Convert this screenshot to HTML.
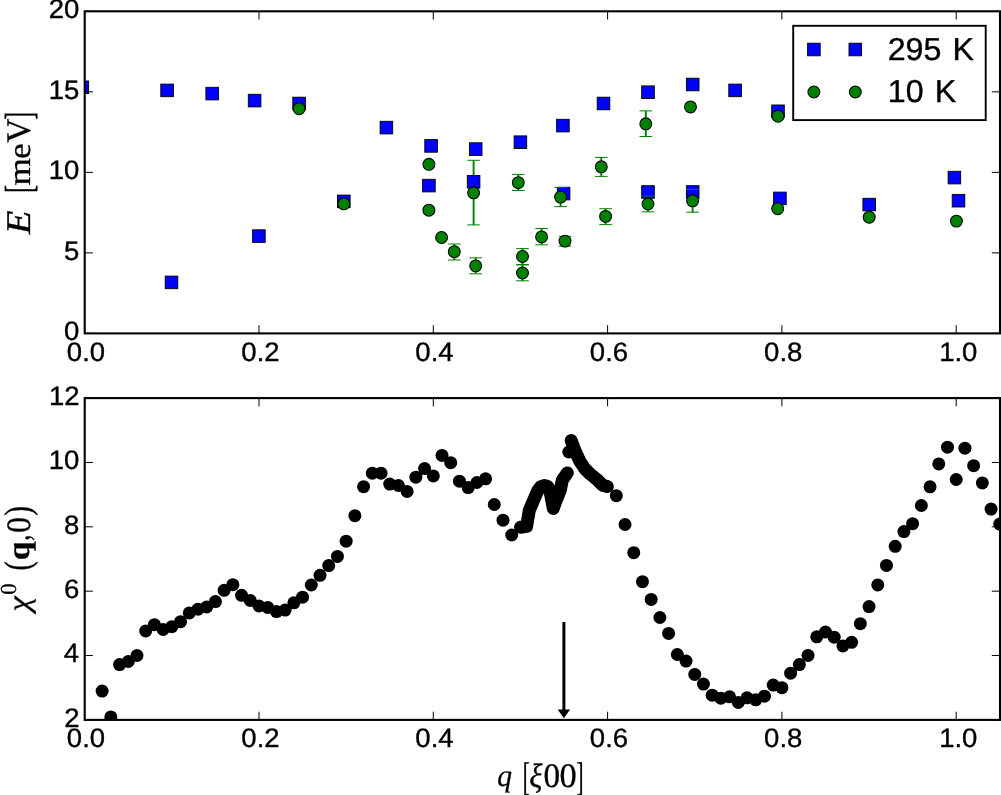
<!DOCTYPE html>
<html><head><meta charset="utf-8"><title>chart</title>
<style>html,body{margin:0;padding:0;background:#fff;}svg{display:block;will-change:transform;}text{fill:#000;text-rendering:geometricPrecision;}</style></head><body>
<svg width="1001" height="795" viewBox="0 0 1001 795">
<rect width="1001" height="795" fill="#fff"/>
<defs>
<clipPath id="ct"><rect x="84.7" y="11.3" width="917.3" height="322.1"/></clipPath>
<clipPath id="cb"><rect x="84.7" y="398.1" width="917.3" height="321.8"/></clipPath>
</defs>
<g clip-path="url(#ct)">
<path d="M454.3 244V260M475.7 257.8V273.8M473.6 160.3V224.9M518.3 174.4V190.5M522.5 248.6V264.5M522.5 264.9V280.8M541.6 228.5V244.8M565 236.3V246.1M560.6 187.4V206.6M601.3 157.4V176.4M605.6 208.7V224.6M645.8 110.9V136.5M648 196V211.8M692.6 189.3V212.2" stroke="#008000" stroke-width="1.9" fill="none"/>
<rect x="76" y="81" width="12.6" height="12.6" fill="#0000ff" stroke="#000" stroke-width="0.9"/>
<rect x="160.8" y="84.1" width="12.6" height="12.6" fill="#0000ff" stroke="#000" stroke-width="0.9"/>
<rect x="205.9" y="87.3" width="12.6" height="12.6" fill="#0000ff" stroke="#000" stroke-width="0.9"/>
<rect x="248.3" y="94.3" width="12.6" height="12.6" fill="#0000ff" stroke="#000" stroke-width="0.9"/>
<rect x="292.8" y="97.2" width="12.6" height="12.6" fill="#0000ff" stroke="#000" stroke-width="0.9"/>
<rect x="380.1" y="121.3" width="12.6" height="12.6" fill="#0000ff" stroke="#000" stroke-width="0.9"/>
<rect x="424.8" y="139.6" width="12.6" height="12.6" fill="#0000ff" stroke="#000" stroke-width="0.9"/>
<rect x="469.4" y="142.8" width="12.6" height="12.6" fill="#0000ff" stroke="#000" stroke-width="0.9"/>
<rect x="514.1" y="135.9" width="12.6" height="12.6" fill="#0000ff" stroke="#000" stroke-width="0.9"/>
<rect x="556.6" y="119.3" width="12.6" height="12.6" fill="#0000ff" stroke="#000" stroke-width="0.9"/>
<rect x="597.2" y="97.2" width="12.6" height="12.6" fill="#0000ff" stroke="#000" stroke-width="0.9"/>
<rect x="641.7" y="85.9" width="12.6" height="12.6" fill="#0000ff" stroke="#000" stroke-width="0.9"/>
<rect x="686.4" y="78.2" width="12.6" height="12.6" fill="#0000ff" stroke="#000" stroke-width="0.9"/>
<rect x="728.8" y="84.1" width="12.6" height="12.6" fill="#0000ff" stroke="#000" stroke-width="0.9"/>
<rect x="771.7" y="105" width="12.6" height="12.6" fill="#0000ff" stroke="#000" stroke-width="0.9"/>
<rect x="165.2" y="276.1" width="12.6" height="12.6" fill="#0000ff" stroke="#000" stroke-width="0.9"/>
<rect x="252.6" y="229.8" width="12.6" height="12.6" fill="#0000ff" stroke="#000" stroke-width="0.9"/>
<rect x="337.5" y="195.1" width="12.6" height="12.6" fill="#0000ff" stroke="#000" stroke-width="0.9"/>
<rect x="422.6" y="179.3" width="12.6" height="12.6" fill="#0000ff" stroke="#000" stroke-width="0.9"/>
<rect x="467.3" y="175.5" width="12.6" height="12.6" fill="#0000ff" stroke="#000" stroke-width="0.9"/>
<rect x="557.3" y="187.3" width="12.6" height="12.6" fill="#0000ff" stroke="#000" stroke-width="0.9"/>
<rect x="641.7" y="185.7" width="12.6" height="12.6" fill="#0000ff" stroke="#000" stroke-width="0.9"/>
<rect x="686.4" y="185.7" width="12.6" height="12.6" fill="#0000ff" stroke="#000" stroke-width="0.9"/>
<rect x="773.6" y="192.1" width="12.6" height="12.6" fill="#0000ff" stroke="#000" stroke-width="0.9"/>
<rect x="862.9" y="198.3" width="12.6" height="12.6" fill="#0000ff" stroke="#000" stroke-width="0.9"/>
<rect x="948.1" y="171.3" width="12.6" height="12.6" fill="#0000ff" stroke="#000" stroke-width="0.9"/>
<rect x="952.2" y="194.4" width="12.6" height="12.6" fill="#0000ff" stroke="#000" stroke-width="0.9"/>
<path d="M448 244h12.6M448 260h12.6M469.4 257.8h12.6M469.4 273.8h12.6M467.3 160.3h12.6M467.3 224.9h12.6M512 174.4h12.6M512 190.5h12.6M516.2 248.6h12.6M516.2 264.5h12.6M516.2 264.9h12.6M516.2 280.8h12.6M535.3 228.5h12.6M535.3 244.8h12.6M558.7 236.3h12.6M558.7 246.1h12.6M554.3 187.4h12.6M554.3 206.6h12.6M595 157.4h12.6M595 176.4h12.6M599.3 208.7h12.6M599.3 224.6h12.6M639.5 110.9h12.6M639.5 136.5h12.6M641.7 196h12.6M641.7 211.8h12.6M686.3 189.3h12.6M686.3 212.2h12.6" stroke="#008000" stroke-width="1" fill="none"/>
<circle cx="299.1" cy="108.7" r="5.95" fill="#008000" stroke="#000" stroke-width="1.05"/>
<circle cx="343.8" cy="203.9" r="5.95" fill="#008000" stroke="#000" stroke-width="1.05"/>
<circle cx="428.9" cy="164.3" r="5.95" fill="#008000" stroke="#000" stroke-width="1.05"/>
<circle cx="428.9" cy="210.2" r="5.95" fill="#008000" stroke="#000" stroke-width="1.05"/>
<circle cx="441.6" cy="237.5" r="5.95" fill="#008000" stroke="#000" stroke-width="1.05"/>
<circle cx="454.3" cy="251.7" r="5.95" fill="#008000" stroke="#000" stroke-width="1.05"/>
<circle cx="475.7" cy="265.9" r="5.95" fill="#008000" stroke="#000" stroke-width="1.05"/>
<circle cx="473.6" cy="192.8" r="5.95" fill="#008000" stroke="#000" stroke-width="1.05"/>
<circle cx="518.3" cy="182.6" r="5.95" fill="#008000" stroke="#000" stroke-width="1.05"/>
<circle cx="522.5" cy="256.5" r="5.95" fill="#008000" stroke="#000" stroke-width="1.05"/>
<circle cx="522.5" cy="273" r="5.95" fill="#008000" stroke="#000" stroke-width="1.05"/>
<circle cx="541.6" cy="236.9" r="5.95" fill="#008000" stroke="#000" stroke-width="1.05"/>
<circle cx="565" cy="241.1" r="5.95" fill="#008000" stroke="#000" stroke-width="1.05"/>
<circle cx="560.6" cy="197.1" r="5.95" fill="#008000" stroke="#000" stroke-width="1.05"/>
<circle cx="601.3" cy="166.8" r="5.95" fill="#008000" stroke="#000" stroke-width="1.05"/>
<circle cx="605.6" cy="216.4" r="5.95" fill="#008000" stroke="#000" stroke-width="1.05"/>
<circle cx="645.8" cy="123.8" r="5.95" fill="#008000" stroke="#000" stroke-width="1.05"/>
<circle cx="648" cy="204" r="5.95" fill="#008000" stroke="#000" stroke-width="1.05"/>
<circle cx="690.5" cy="106.9" r="5.95" fill="#008000" stroke="#000" stroke-width="1.05"/>
<circle cx="692.6" cy="200.8" r="5.95" fill="#008000" stroke="#000" stroke-width="1.05"/>
<circle cx="778" cy="116.2" r="5.95" fill="#008000" stroke="#000" stroke-width="1.05"/>
<circle cx="777.7" cy="208.7" r="5.95" fill="#008000" stroke="#000" stroke-width="1.05"/>
<circle cx="869.2" cy="217.2" r="5.95" fill="#008000" stroke="#000" stroke-width="1.05"/>
<circle cx="956.4" cy="221.1" r="5.95" fill="#008000" stroke="#000" stroke-width="1.05"/>
</g>
<path d="M84.7 333.4v-8.2M84.7 11.3v8.2M259 333.4v-8.2M259 11.3v8.2M433.3 333.4v-8.2M433.3 11.3v8.2M607.6 333.4v-8.2M607.6 11.3v8.2M781.9 333.4v-8.2M781.9 11.3v8.2M956.2 333.4v-8.2M956.2 11.3v8.2M84.7 333.4h8.2M1000 333.4h-8.2M84.7 252.88h8.2M1000 252.88h-8.2M84.7 172.35h8.2M1000 172.35h-8.2M84.7 91.83h8.2M1000 91.83h-8.2M84.7 11.3h8.2M1000 11.3h-8.2" stroke="#000" stroke-width="1" fill="none"/>
<rect x="84.7" y="11.3" width="915.3" height="322.1" fill="none" stroke="#000" stroke-width="2.1"/>
<text transform="translate(63.96 340.3) scale(1.0350 1)" font-family='"Liberation Sans", sans-serif' font-size="26.6" style="font-kerning:none" stroke="#000" stroke-width="0.35">0</text>
<text transform="translate(64.04 259.77) scale(1.0350 1)" font-family='"Liberation Sans", sans-serif' font-size="26.6" style="font-kerning:none" stroke="#000" stroke-width="0.35">5</text>
<text transform="translate(48.65 179.25) scale(1.0350 1)" font-family='"Liberation Sans", sans-serif' font-size="26.6" style="font-kerning:none" stroke="#000" stroke-width="0.35">10</text>
<text transform="translate(48.73 98.73) scale(1.0350 1)" font-family='"Liberation Sans", sans-serif' font-size="26.6" style="font-kerning:none" stroke="#000" stroke-width="0.35">15</text>
<text transform="translate(48.65 18.2) scale(1.0350 1)" font-family='"Liberation Sans", sans-serif' font-size="26.6" style="font-kerning:none" stroke="#000" stroke-width="0.35">20</text>
<text transform="translate(66.86 360.7) scale(1.0350 1)" font-family='"Liberation Sans", sans-serif' font-size="26.6" style="font-kerning:none" stroke="#000" stroke-width="0.35">0.0</text>
<text transform="translate(241.32 360.7) scale(1.0350 1)" font-family='"Liberation Sans", sans-serif' font-size="26.6" style="font-kerning:none" stroke="#000" stroke-width="0.35">0.2</text>
<text transform="translate(415.33 360.7) scale(1.0350 1)" font-family='"Liberation Sans", sans-serif' font-size="26.6" style="font-kerning:none" stroke="#000" stroke-width="0.35">0.4</text>
<text transform="translate(589.83 360.7) scale(1.0350 1)" font-family='"Liberation Sans", sans-serif' font-size="26.6" style="font-kerning:none" stroke="#000" stroke-width="0.35">0.6</text>
<text transform="translate(764.12 360.7) scale(1.0350 1)" font-family='"Liberation Sans", sans-serif' font-size="26.6" style="font-kerning:none" stroke="#000" stroke-width="0.35">0.8</text>
<text transform="translate(939.15 360.7) scale(1.0350 1)" font-family='"Liberation Sans", sans-serif' font-size="26.6" style="font-kerning:none" stroke="#000" stroke-width="0.35">1.0</text>
<rect x="793.2" y="25.8" width="192.5" height="94.3" fill="#fff" stroke="#000" stroke-width="1.9"/>
<rect x="807.6" y="43.2" width="12.6" height="12.6" fill="#0000ff" stroke="#000" stroke-width="0.9"/>
<circle cx="813.9" cy="92" r="5.95" fill="#008000" stroke="#000" stroke-width="1.05"/>
<rect x="849" y="43.2" width="12.6" height="12.6" fill="#0000ff" stroke="#000" stroke-width="0.9"/>
<circle cx="855.3" cy="92" r="5.95" fill="#008000" stroke="#000" stroke-width="1.05"/>
<text transform="translate(887.68 59.8) scale(1.0170 1)" font-family='"Liberation Sans", sans-serif' font-size="31.7" style="font-kerning:none" stroke="#000" stroke-width="0.35" word-spacing="1.97">295 K</text>
<text transform="translate(887.84 102.3) scale(1.0170 1)" font-family='"Liberation Sans", sans-serif' font-size="31.7" style="font-kerning:none" stroke="#000" stroke-width="0.35" word-spacing="1.97">10 K</text>
<g clip-path="url(#cb)" fill="#000">
<circle cx="102.13" cy="691.1" r="6.5"/>
<circle cx="110.84" cy="716.9" r="6.5"/>
<circle cx="119.56" cy="664.6" r="6.5"/>
<circle cx="128.28" cy="661.5" r="6.5"/>
<circle cx="136.99" cy="655.5" r="6.5"/>
<circle cx="145.71" cy="631" r="6.5"/>
<circle cx="154.42" cy="624.7" r="6.5"/>
<circle cx="163.13" cy="629.4" r="6.5"/>
<circle cx="171.85" cy="626.7" r="6.5"/>
<circle cx="180.56" cy="621.7" r="6.5"/>
<circle cx="189.28" cy="612.9" r="6.5"/>
<circle cx="198" cy="609.2" r="6.5"/>
<circle cx="206.71" cy="607" r="6.5"/>
<circle cx="215.43" cy="601.6" r="6.5"/>
<circle cx="224.14" cy="590.3" r="6.5"/>
<circle cx="232.86" cy="584.7" r="6.5"/>
<circle cx="241.57" cy="595.3" r="6.5"/>
<circle cx="250.29" cy="600.5" r="6.5"/>
<circle cx="259" cy="606" r="6.5"/>
<circle cx="267.71" cy="607.4" r="6.5"/>
<circle cx="276.43" cy="611.6" r="6.5"/>
<circle cx="285.15" cy="610.1" r="6.5"/>
<circle cx="293.86" cy="602.8" r="6.5"/>
<circle cx="302.57" cy="597.2" r="6.5"/>
<circle cx="311.29" cy="585" r="6.5"/>
<circle cx="320" cy="575.3" r="6.5"/>
<circle cx="328.72" cy="565.6" r="6.5"/>
<circle cx="337.44" cy="556.4" r="6.5"/>
<circle cx="346.15" cy="541.2" r="6.5"/>
<circle cx="354.87" cy="515.7" r="6.5"/>
<circle cx="363.58" cy="486.7" r="6.5"/>
<circle cx="372.3" cy="473.2" r="6.5"/>
<circle cx="381.01" cy="473.2" r="6.5"/>
<circle cx="389.72" cy="484.1" r="6.5"/>
<circle cx="398.44" cy="485.5" r="6.5"/>
<circle cx="407.15" cy="491.5" r="6.5"/>
<circle cx="415.87" cy="477.2" r="6.5"/>
<circle cx="424.58" cy="468.6" r="6.5"/>
<circle cx="433.3" cy="475.9" r="6.5"/>
<circle cx="442.01" cy="455.4" r="6.5"/>
<circle cx="450.73" cy="462.7" r="6.5"/>
<circle cx="459.44" cy="481.2" r="6.5"/>
<circle cx="468.16" cy="487.6" r="6.5"/>
<circle cx="476.88" cy="482.5" r="6.5"/>
<circle cx="485.59" cy="478.8" r="6.5"/>
<circle cx="494.3" cy="504.5" r="6.5"/>
<circle cx="503.02" cy="520.2" r="6.5"/>
<circle cx="511.73" cy="535" r="6.5"/>
<circle cx="616.32" cy="495.7" r="6.5"/>
<circle cx="625.03" cy="524.5" r="6.5"/>
<circle cx="633.75" cy="552.7" r="6.5"/>
<circle cx="642.46" cy="581.7" r="6.5"/>
<circle cx="651.18" cy="599.4" r="6.5"/>
<circle cx="659.89" cy="617.5" r="6.5"/>
<circle cx="668.61" cy="633.4" r="6.5"/>
<circle cx="677.32" cy="654.5" r="6.5"/>
<circle cx="686.03" cy="661.1" r="6.5"/>
<circle cx="694.75" cy="674.4" r="6.5"/>
<circle cx="703.47" cy="684.1" r="6.5"/>
<circle cx="712.18" cy="695.2" r="6.5"/>
<circle cx="720.89" cy="698.2" r="6.5"/>
<circle cx="729.61" cy="696.8" r="6.5"/>
<circle cx="738.33" cy="702.4" r="6.5"/>
<circle cx="747.04" cy="697.8" r="6.5"/>
<circle cx="755.76" cy="699.8" r="6.5"/>
<circle cx="764.47" cy="696.2" r="6.5"/>
<circle cx="773.19" cy="685.1" r="6.5"/>
<circle cx="781.9" cy="687.7" r="6.5"/>
<circle cx="790.62" cy="673.2" r="6.5"/>
<circle cx="799.33" cy="664.6" r="6.5"/>
<circle cx="808.04" cy="655.4" r="6.5"/>
<circle cx="816.76" cy="636.8" r="6.5"/>
<circle cx="825.48" cy="632" r="6.5"/>
<circle cx="834.19" cy="637.2" r="6.5"/>
<circle cx="842.91" cy="645.9" r="6.5"/>
<circle cx="851.62" cy="642.3" r="6.5"/>
<circle cx="860.34" cy="623.7" r="6.5"/>
<circle cx="869.05" cy="606.6" r="6.5"/>
<circle cx="877.77" cy="584.9" r="6.5"/>
<circle cx="886.48" cy="565.4" r="6.5"/>
<circle cx="895.2" cy="546.3" r="6.5"/>
<circle cx="903.91" cy="531.6" r="6.5"/>
<circle cx="912.62" cy="523.7" r="6.5"/>
<circle cx="921.34" cy="505.5" r="6.5"/>
<circle cx="930.06" cy="486.8" r="6.5"/>
<circle cx="938.77" cy="463.9" r="6.5"/>
<circle cx="947.49" cy="447.2" r="6.5"/>
<circle cx="956.2" cy="479.5" r="6.5"/>
<circle cx="964.92" cy="448.2" r="6.5"/>
<circle cx="973.63" cy="465.7" r="6.5"/>
<circle cx="982.35" cy="482.9" r="6.5"/>
<circle cx="991.06" cy="509.1" r="6.5"/>
<circle cx="999.78" cy="524.1" r="6.5"/>
<circle cx="568.8" cy="452" r="6.5"/>
<polyline points="520.6,527.2 526.6,526.4 529.3,510.3 533.6,500.2 538,490.2 540.7,486.8 544.2,485.5 547.7,486.5 549.7,490.2 551.4,498.2 553.3,508.5 555.8,501.2 560.3,490.2 562.3,480.1 567.3,472.9" fill="none" stroke="#000" stroke-width="13" stroke-linecap="round" stroke-linejoin="round"/>
<polyline points="571.2,440.5 574.8,450.2 579.7,461 584.5,468.3 590.5,474.3 596.6,479.2 602.6,485.2 607.3,486.6" fill="none" stroke="#000" stroke-width="13" stroke-linecap="round" stroke-linejoin="round"/>
</g>
<path d="M84.7 719.9v-8.2M84.7 398.1v8.2M259 719.9v-8.2M259 398.1v8.2M433.3 719.9v-8.2M433.3 398.1v8.2M607.6 719.9v-8.2M607.6 398.1v8.2M781.9 719.9v-8.2M781.9 398.1v8.2M956.2 719.9v-8.2M956.2 398.1v8.2M84.7 719.9h8.2M1000 719.9h-8.2M84.7 655.54h8.2M1000 655.54h-8.2M84.7 591.18h8.2M1000 591.18h-8.2M84.7 526.82h8.2M1000 526.82h-8.2M84.7 462.46h8.2M1000 462.46h-8.2M84.7 398.1h8.2M1000 398.1h-8.2" stroke="#000" stroke-width="1" fill="none"/>
<rect x="84.7" y="398.1" width="915.3" height="321.8" fill="none" stroke="#000" stroke-width="2.1"/>
<text transform="translate(64.27 726.8) scale(1.0350 1)" font-family='"Liberation Sans", sans-serif' font-size="26.6" style="font-kerning:none" stroke="#000" stroke-width="0.35">2</text>
<text transform="translate(63.7 662.44) scale(1.0350 1)" font-family='"Liberation Sans", sans-serif' font-size="26.6" style="font-kerning:none" stroke="#000" stroke-width="0.35">4</text>
<text transform="translate(64.1 598.08) scale(1.0350 1)" font-family='"Liberation Sans", sans-serif' font-size="26.6" style="font-kerning:none" stroke="#000" stroke-width="0.35">6</text>
<text transform="translate(64.08 533.72) scale(1.0350 1)" font-family='"Liberation Sans", sans-serif' font-size="26.6" style="font-kerning:none" stroke="#000" stroke-width="0.35">8</text>
<text transform="translate(48.65 469.36) scale(1.0350 1)" font-family='"Liberation Sans", sans-serif' font-size="26.6" style="font-kerning:none" stroke="#000" stroke-width="0.35">10</text>
<text transform="translate(48.96 405) scale(1.0350 1)" font-family='"Liberation Sans", sans-serif' font-size="26.6" style="font-kerning:none" stroke="#000" stroke-width="0.35">12</text>
<text transform="translate(66.86 747.2) scale(1.0350 1)" font-family='"Liberation Sans", sans-serif' font-size="26.6" style="font-kerning:none" stroke="#000" stroke-width="0.35">0.0</text>
<text transform="translate(241.32 747.2) scale(1.0350 1)" font-family='"Liberation Sans", sans-serif' font-size="26.6" style="font-kerning:none" stroke="#000" stroke-width="0.35">0.2</text>
<text transform="translate(415.33 747.2) scale(1.0350 1)" font-family='"Liberation Sans", sans-serif' font-size="26.6" style="font-kerning:none" stroke="#000" stroke-width="0.35">0.4</text>
<text transform="translate(589.83 747.2) scale(1.0350 1)" font-family='"Liberation Sans", sans-serif' font-size="26.6" style="font-kerning:none" stroke="#000" stroke-width="0.35">0.6</text>
<text transform="translate(764.12 747.2) scale(1.0350 1)" font-family='"Liberation Sans", sans-serif' font-size="26.6" style="font-kerning:none" stroke="#000" stroke-width="0.35">0.8</text>
<text transform="translate(939.15 747.2) scale(1.0350 1)" font-family='"Liberation Sans", sans-serif' font-size="26.6" style="font-kerning:none" stroke="#000" stroke-width="0.35">1.0</text>
<path d="M563.9 622V711" stroke="#000" stroke-width="3" fill="none"/>
<path d="M557.7 709.4L563.9 718.2L570.1 709.4Z" fill="#000"/>
<text transform="translate(29.9 234.34) rotate(-90) scale(1.2161 1.0834)" font-family='"Liberation Serif", serif' font-size="32" font-style="italic" font-weight="normal" stroke="#000" stroke-width="0.3">E</text>
<text transform="translate(32.46 192.63) rotate(-90) scale(0.7298 1.2234)" font-family='"Liberation Serif", serif' font-size="32" font-style="normal" font-weight="normal" stroke="#000" stroke-width="0.3">[</text>
<text transform="translate(29.9 185.44) rotate(-90) scale(1.1046 0.9948)" font-family='"Liberation Serif", serif' font-size="32" font-style="normal" font-weight="normal" stroke="#000" stroke-width="0.3">m</text>
<text transform="translate(29.89 158.99) rotate(-90) scale(1.1145 0.9941)" font-family='"Liberation Serif", serif' font-size="32" font-style="normal" font-weight="normal" stroke="#000" stroke-width="0.3">e</text>
<text transform="translate(29.78 142.68) rotate(-90) scale(1.0451 1.0776)" font-family='"Liberation Serif", serif' font-size="32" font-style="normal" font-weight="normal" stroke="#000" stroke-width="0.3">V</text>
<text transform="translate(32.46 119.64) rotate(-90) scale(0.7298 1.2234)" font-family='"Liberation Serif", serif' font-size="32" font-style="normal" font-weight="normal" stroke="#000" stroke-width="0.3">]</text>
<text transform="translate(29.11 611.54) rotate(-90) scale(1.0753 0.9814)" font-family='"Liberation Serif", serif' font-size="32" font-style="italic" font-weight="normal" stroke="#000" stroke-width="0.3">χ</text>
<text transform="translate(15.58 594.66) rotate(-90) scale(0.7078 0.7178)" font-family='"Liberation Serif", serif' font-size="32" font-style="normal" font-weight="normal" stroke="#000" stroke-width="0.3">0</text>
<text transform="translate(29.91 570.51) rotate(-90) scale(0.8639 1.1580)" font-family='"Liberation Serif", serif' font-size="32" font-style="normal" font-weight="normal" stroke="#000" stroke-width="0.3">(</text>
<text transform="translate(29.17 560.19) rotate(-90) scale(1.0564 0.9728)" font-family='"Liberation Serif", serif' font-size="32" font-style="normal" font-weight="bold" stroke="#000" stroke-width="0.3">q</text>
<text transform="translate(29.35 540.72) rotate(-90) scale(0.7554 1.1072)" font-family='"Liberation Serif", serif' font-size="32" font-style="normal" font-weight="normal" stroke="#000" stroke-width="0.3">,</text>
<text transform="translate(29.87 533.02) rotate(-90) scale(1.0028 1.0651)" font-family='"Liberation Serif", serif' font-size="32" font-style="normal" font-weight="normal" stroke="#000" stroke-width="0.3">0</text>
<text transform="translate(29.91 515.75) rotate(-90) scale(0.9247 1.1580)" font-family='"Liberation Serif", serif' font-size="32" font-style="normal" font-weight="normal" stroke="#000" stroke-width="0.3">)</text>
<text transform="translate(497.22 786.3) scale(0.9233 0.9685)" font-family='"Liberation Serif", serif' font-size="32" font-style="italic" font-weight="normal" stroke="#000" stroke-width="0.3">q</text>
<text transform="translate(522.63 790.03) scale(0.6596 1.2536)" font-family='"Liberation Serif", serif' font-size="32" font-style="normal" font-weight="normal" stroke="#000" stroke-width="0.3">[</text>
<text transform="translate(529.15 787.34) scale(0.9608 1.0571)" font-family='"Liberation Serif", serif' font-size="32" font-style="italic" font-weight="normal" stroke="#000" stroke-width="0.3">ξ</text>
<text transform="translate(543.43 787.47) scale(1.0396 1.0698)" font-family='"Liberation Serif", serif' font-size="32" font-style="normal" font-weight="normal" stroke="#000" stroke-width="0.3">0</text>
<text transform="translate(559.39 787.47) scale(1.0765 1.0698)" font-family='"Liberation Serif", serif' font-size="32" font-style="normal" font-weight="normal" stroke="#000" stroke-width="0.3">0</text>
<text transform="translate(576.44 790.03) scale(0.6596 1.2536)" font-family='"Liberation Serif", serif' font-size="32" font-style="normal" font-weight="normal" stroke="#000" stroke-width="0.3">]</text>
</svg></body></html>
